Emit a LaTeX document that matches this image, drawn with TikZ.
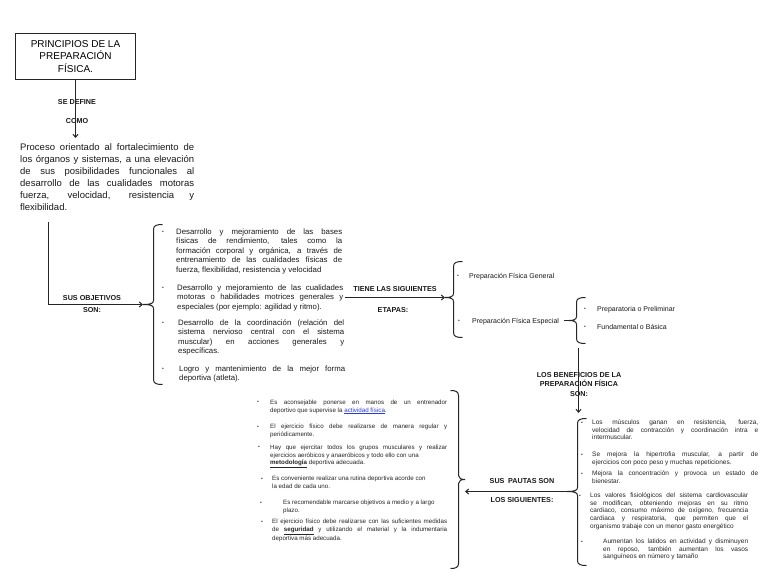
\documentclass[tikz,border=0pt]{standalone}
\usepackage{fontspec}
\setmainfont{Liberation Sans}
\usetikzlibrary{arrows.meta}
\definecolor{linkblue}{RGB}{40,60,210}
\newcommand\lbrak[5]{\draw[ln] ({#1+9},#2) .. controls ({#1+3},#2) and (#1,{#2+1}) .. (#1,{#2+5}) -- (#1,{#3-4}) .. controls (#1,{#3-1}) and ({#1-3},#3) .. (#5,#3) .. controls ({#1-3},#3) and (#1,{#3+1}) .. (#1,{#3+4}) -- (#1,{#4-5}) .. controls (#1,{#4-1}) and ({#1+3},#4) .. ({#1+9},#4);}
\newcommand\rbrak[5]{\draw[ln] ({#1-8},#2) .. controls ({#1-3},#2) and (#1,{#2+1}) .. (#1,{#2+5}) -- (#1,{#3-4}) .. controls (#1,{#3-1}) and ({#1+3},#3) .. (#5,#3) .. controls ({#1+3},#3) and (#1,{#3+1}) .. (#1,{#3+4}) -- (#1,{#4-5}) .. controls (#1,{#4-1}) and ({#1-3},#4) .. ({#1-8},#4);}
\tikzset{
  ln/.style={draw=black!85, line width=1pt},
  arr/.style={ln, -{Straight Barb[length=3pt,width=5pt]}},
  shaft/.style={fill=black!85, draw=none},
  lbl/.style={inner sep=0, font=\fontsize{7.2}{9.5}\selectfont\bfseries, text=black!90},
  para/.style={inner sep=0, anchor=base west, align=justify, text=black!90},
  objtxt/.style={para, text width=166pt, font=\fontsize{7.8}{9.5}\selectfont},
  smalltxt/.style={para, font=\fontsize{6.2}{7.6}\selectfont, text=black!85},
  bentxt/.style={para, font=\fontsize{6.5}{7.6}\selectfont, text=black!85},
  bul/.style={inner sep=0, font=\fontsize{5}{5}\selectfont, text=black!85},
  etxt/.style={inner sep=0, anchor=base west, font=\fontsize{7}{8}\selectfont, text=black!90}
}
\begin{document}
\begin{tikzpicture}[x=1pt,y=-1pt]
\useasboundingbox (0,0) rectangle (768,576);
\fill[white] (0,0) rectangle (768,576);

% ---------- coordinates ----------
\coordinate (deftop) at (75.5,138);
\coordinate (objstart) at (48.5,222);
\coordinate (objcorner) at (48.5,304.5);
\coordinate (bk1cusp) at (143,304.5);
\coordinate (etA) at (345,297.5);
\coordinate (bk2cusp) at (445,297.5);
\coordinate (bk3cusp) at (569,320.5);
\coordinate (bk3bot) at (578.5,348);
\coordinate (bk4top) at (578.5,413);
\coordinate (bk4cusp) at (567,491.5);
\coordinate (pautatip) at (465,491.5);

% ---------- horizontal connectors ----------
\fill[shaft] ([yshift=-0.55pt]objcorner) rectangle ([xshift=-1pt,yshift=0.55pt]bk1cusp);
\draw[arr] (objcorner) -- (bk1cusp);
\fill[shaft] ([yshift=-0.55pt]etA) rectangle ([xshift=-1pt,yshift=0.55pt]bk2cusp);
\draw[arr] (etA) -- (bk2cusp);
\fill[shaft] ([yshift=-0.55pt]bk4cusp) rectangle ([xshift=1pt,yshift=0.55pt]pautatip);
\draw[arr] (bk4cusp) -- (pautatip);

% ---------- nodes ----------
\node[draw=black!85, line width=1pt, minimum width=120pt, minimum height=46pt, align=center,
      font=\fontsize{10}{12.5}\selectfont, inner sep=0] (title) at (75.5,56.5)
      {PRINCIPIOS DE LA\\PREPARACIÓN\\FÍSICA.};
\node[lbl] (sedef) at (77,102) {SE DEFINE};
\node[lbl] (como) at (77,121) {COMO};

\node[para, text width=174pt, font=\fontsize{9.5}{12}\selectfont] (def) at (20,150.5)
{Proceso orientado al fortalecimiento de\linebreak los órganos y sistemas, a una elevación\linebreak de sus posibilidades funcionales al\linebreak desarrollo de las cualidades motoras\linebreak fuerza, velocidad, resistencia y\linebreak flexibilidad.};

\node[lbl] (obj1) at (92,298) {SUS OBJETIVOS};
\node[lbl] (obj2) at (92,310) {SON:};

\node[bul] (ob1) at (163,232) {•};
\node[bul] (ob2) at (163,288) {•};
\node[bul] (ob3) at (163,323) {•};
\node[bul] (ob4) at (163,369) {•};
\node[objtxt] (o1) at (176,234) {Desarrollo y mejoramiento de las bases\linebreak físicas de rendimiento, tales como la\linebreak formación corporal y orgánica, a través de\linebreak entrenamiento de las cualidades físicas de\linebreak fuerza, flexibilidad, resistencia y velocidad};
\node[objtxt] (o2) at (177,290) {Desarrollo y mejoramiento de las cualidades\linebreak motoras o habilidades motrices generales y\linebreak especiales (por ejemplo: agilidad y ritmo).};
\node[objtxt] (o3) at (178,325) {Desarrollo de la coordinación (relación del\linebreak sistema nervioso central con el sistema\linebreak muscular) en acciones generales y\linebreak específicas.};
\node[objtxt] (o4) at (179,371) {Logro y mantenimiento de la mejor forma\linebreak deportiva (atleta).};

\node[lbl] (et1) at (395,289) {TIENE LAS SIGUIENTES};
\node[lbl] (et2) at (393,310) {ETAPAS:};
\node[bul] (eb1) at (458,276) {•};
\node[bul] (eb2) at (459,321) {•};
\node[etxt] (e1) at (469,278) {Preparación Física General};
\node[etxt] (e2) at (472,323) {Preparación Física Especial};

\node[bul] (sb1) at (585,309) {•};
\node[bul] (sb2) at (585,327) {•};
\node[etxt] (s1) at (597,311) {Preparatoria o Preliminar};
\node[etxt] (s2) at (597,329) {Fundamental o Básica};

\node[lbl, align=center] (ben) at (579,384.5) {LOS BENEFICIOS DE LA\\PREPARACIÓN FÍSICA\\SON:};
\node[lbl] (pa1) at (522,481) {SUS\enspace PAUTAS SON};
\node[lbl] (pa2) at (522,500) {LOS SIGUIENTES:};

\node[bul] (bb1) at (582,423) {•};
\node[bul] (bb2) at (582,455) {•};
\node[bul] (bb3) at (582,474) {•};
\node[bul] (bb4) at (580,496) {•};
\node[bul] (bb5) at (582,542) {•};
\node[bentxt, text width=166pt] (b1) at (592,424.6) {Los músculos ganan en resistencia, fuerza,\linebreak velocidad de contracción y coordinación intra e\linebreak intermuscular.};
\node[bentxt, text width=166pt] (b2) at (592,456.6) {Se mejora la hipertrofia muscular, a partir de\linebreak ejercicios con poco peso y muchas repeticiones.};
\node[bentxt, text width=166pt] (b3) at (592,475.6) {Mejora la concentración y provoca un estado de\linebreak bienestar.};
\node[bentxt, text width=158pt] (b4) at (590,497.6) {Los valores fisiológicos del sistema cardiovascular\linebreak se modifican, obteniendo mejoras en su ritmo\linebreak cardiaco, consumo máximo de oxígeno, frecuencia\linebreak cardiaca y respiratoria, que permiten que el\linebreak organismo trabaje con un menor gasto energético};
\node[bentxt, text width=145pt] (b5) at (603,543.6) {Aumentan los latidos en actividad y disminuyen\linebreak en reposo, también aumentan los vasos\linebreak sanguíneos en número y tamaño};

\node[bul] (pb1) at (258,402) {•};
\node[bul] (pb2) at (258,427) {•};
\node[bul] (pb3) at (259,447) {•};
\node[bul] (pb4) at (262,479) {•};
\node[bul] (pb5) at (261,503) {•};
\node[bul] (pb6) at (262,522) {•};
\node[smalltxt, text width=177pt] (p1) at (270,404.6) {Es aconsejable ponerse en manos de un entrenador\linebreak deportivo que supervise la \textcolor{linkblue}{\underline{actividad física}}.};
\node[smalltxt, text width=177pt] (p2) at (270,428.6) {El ejercicio físico debe realizarse de manera regular y\linebreak periódicamente.};
\node[smalltxt, text width=177pt] (p3) at (270,449.6) {Hay que ejercitar todos los grupos musculares y realizar\linebreak ejercicios aeróbicos y anaeróbicos y todo ello con una\\ \underline{\textbf{metodología}} deportiva adecuada.};
\node[smalltxt, text width=175pt] (p4) at (272,480.6) {Es conveniente realizar una rutina deportiva acorde con\\ la edad de cada uno.};
\node[smalltxt, text width=164pt] (p5) at (283,504.6) {Es recomendable marcarse objetivos a medio y a largo\\ plazo.};
\node[smalltxt, text width=175pt] (p6) at (272,523.6) {El ejercicio físico debe realizarse con las suficientes medidas\linebreak de \underline{\textbf{seguridad}} y utilizando el material y la indumentaria\linebreak deportiva más adecuada.};

% ---------- brackets ----------
\lbrak{153.5}{224.5}{304.5}{384.5}{143}
\lbrak{453.5}{261.5}{297.5}{337.5}{445}
\lbrak{576.5}{297.5}{320.5}{343.5}{569}
\lbrak{577.5}{418.5}{491.5}{565.5}{567}
\rbrak{458.5}{390.5}{479.5}{568.5}{465}

% ---------- other connectors ----------
\draw[arr] (title.south) -- (deftop);
\draw[ln] (objstart) -- (objcorner);
\draw[ln] ([xshift=5pt]bk3cusp -| e2.east) -- (bk3cusp);
\draw[arr] (bk3bot) -- (bk4top);
\end{tikzpicture}
\end{document}
